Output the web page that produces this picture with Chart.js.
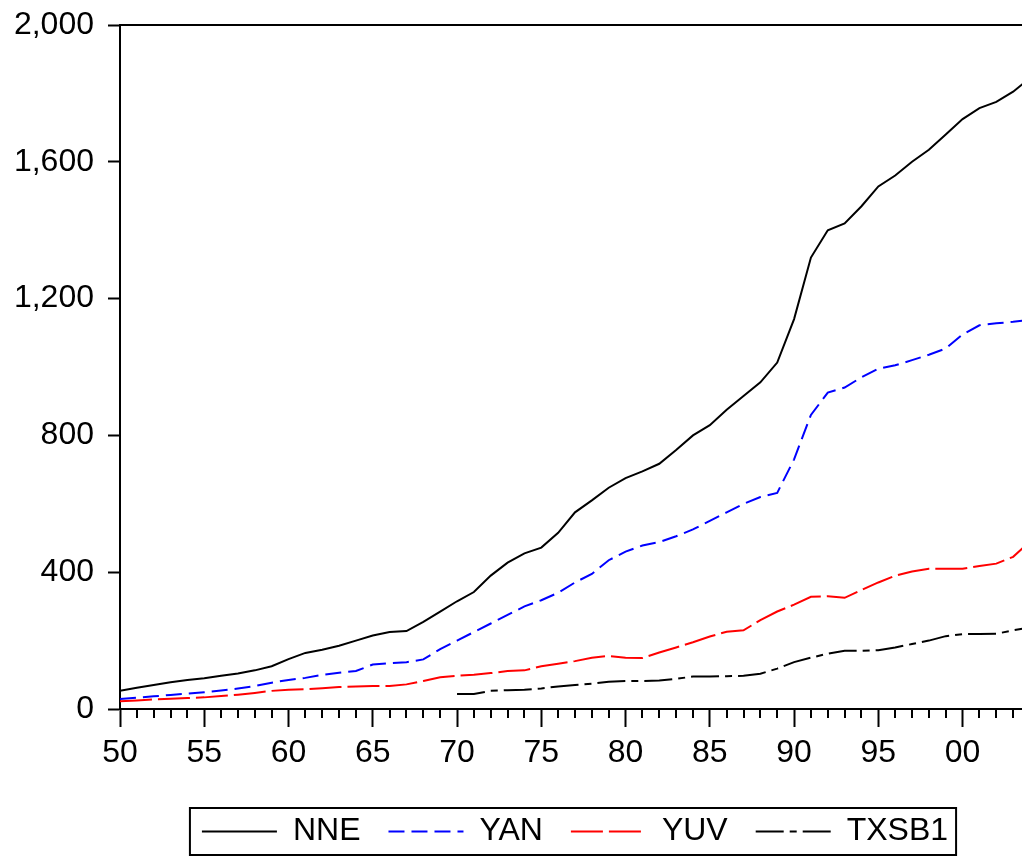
<!DOCTYPE html>
<html>
<head>
<meta charset="utf-8">
<script src="https://cdn.jsdelivr.net/npm/chart.js@4.4.1/dist/chart.umd.min.js"></script>
<style>
  html, body { margin: 0; padding: 0; background: #fff; overflow: hidden; }
  #wrap { width: 1040px; height: 857px; }
</style>
</head>
<body>
<div id="wrap"><canvas id="chart"></canvas></div>
<script>
// ---- data (annual, 1950-2004; last year runs past the window edge) ----
const years = [
  1950, 1951, 1952, 1953, 1954, 1955, 1956, 1957, 1958, 1959,
  1960, 1961, 1962, 1963, 1964, 1965, 1966, 1967, 1968, 1969,
  1970, 1971, 1972, 1973, 1974, 1975, 1976, 1977, 1978, 1979,
  1980, 1981, 1982, 1983, 1984, 1985, 1986, 1987, 1988, 1989,
  1990, 1991, 1992, 1993, 1994, 1995, 1996, 1997, 1998, 1999,
  2000, 2001, 2002, 2003, 2004
];

const nne = [
  53, 62, 70, 78, 85, 90, 97, 104, 113, 125,
  146, 164, 173, 185, 200, 215, 225, 228, 255, 285,
  315, 342, 390, 428, 455, 472, 515, 575, 610, 647,
  675, 695, 717, 757, 800, 830, 875, 915, 955, 1013,
  1140, 1320, 1400, 1420, 1470, 1528, 1560, 1600, 1635, 1680,
  1725, 1757, 1775, 1805, 1845
];

const yan = [
  29, 33, 37, 41, 45, 49, 54, 60, 67, 77,
  85, 91, 100, 106, 111, 130, 134, 137, 145, 175,
  200, 225, 250, 275, 300, 318, 340, 370, 395, 435,
  460, 478, 488, 505, 525, 550, 575, 600, 620, 632,
  730, 860, 925, 940, 970, 995, 1005, 1020, 1036, 1054,
  1095, 1122, 1128, 1132, 1138
];

const yuv = [
  23, 25, 28, 30, 32, 34, 38, 42, 47, 53,
  56, 58, 61, 64, 66, 67, 67, 72, 82, 93,
  97, 100, 105, 111, 113, 125, 132, 140, 150, 155,
  150, 149, 165, 180, 195, 212, 226, 230, 260, 285,
  305, 328, 330, 325, 348, 370, 390, 402, 410, 410,
  410, 418, 425, 445, 490
];

const txsb1 = [
  null, null, null, null, null, null, null, null, null, null,
  null, null, null, null, null, null, null, null, null, null,
  44, 44, 53, 55, 56, 60, 66, 70, 74, 80,
  82, 82, 83, 88, 95, 95, 96, 97, 103, 118,
  137, 150, 162, 170, 170, 172, 180, 190, 200, 213,
  219, 219, 220, 230, 238
];

const xTicks = [1950, 1955, 1960, 1965, 1970, 1975, 1980, 1985, 1990, 1995, 2000];
const xTickLabels = ['50', '55', '60', '65', '70', '75', '80', '85', '90', '95', '00'];
const yTicks = [0, 400, 800, 1200, 1600, 2000];
const yTickLabels = ['0', '400', '800', '1,200', '1,600', '2,000'];

const FONT = { family: "'Liberation Sans', Arial, sans-serif", size: 32 };

function toPoints(values) {
  return years.map((yr, i) => ({ x: yr, y: values[i] }));
}

// minor year ticks, frame lines, legend samples and the box around the legend
const framePlugin = {
  id: 'frame',
  afterDraw(chart) {
    const { ctx, chartArea, scales } = chart;
    const x = scales.x;
    ctx.save();
    ctx.strokeStyle = '#000';
    ctx.lineWidth = 2;
    ctx.setLineDash([]);

    years.forEach(yr => {
      if (xTicks.includes(yr)) return;
      const px = Math.round(x.getPixelForValue(yr));
      ctx.beginPath();
      ctx.moveTo(px, chartArea.bottom);
      ctx.lineTo(px, chartArea.bottom + 9);
      ctx.stroke();
    });

    ctx.beginPath();
    ctx.moveTo(chartArea.left - 1, chartArea.top);
    ctx.lineTo(chartArea.right, chartArea.top);
    ctx.lineTo(chartArea.right, chartArea.bottom);
    ctx.stroke();

    const hb = chart.legend.legendHitBoxes;
    if (hb && hb.length) {
      const first = hb[0];
      const last = hb[hb.length - 1];
      const cy = first.top + first.height / 2;
      const left = first.left - 12;
      const right = last.left + last.width + 8;
      ctx.strokeRect(left, cy - 23, right - left, 47);

      chart.data.datasets.forEach((ds, i) => {
        const box = hb[i];
        const y = Math.round(box.top + box.height / 2) + 0.5;
        ctx.strokeStyle = ds.borderColor;
        ctx.setLineDash(ds.borderDash || []);
        ctx.beginPath();
        ctx.moveTo(box.left, y);
        ctx.lineTo(box.left + 75, y);
        ctx.stroke();
      });
    }
    ctx.restore();
  }
};

const ctx = document.getElementById('chart');

new Chart(ctx, {
  type: 'line',
  data: {
    datasets: [
      { label: 'NNE', data: toPoints(nne), borderColor: '#000000', borderWidth: 2, borderDash: [] },
      { label: 'YAN', data: toPoints(yan), borderColor: '#0000ff', borderWidth: 2, borderDash: [16, 7] },
      { label: 'YUV', data: toPoints(yuv), borderColor: '#ff0000', borderWidth: 2, borderDash: [32, 6] },
      { label: 'TXSB1', data: toPoints(txsb1), borderColor: '#000000', borderWidth: 2, borderDash: [28, 6, 7, 6] }
    ]
  },
  options: {
    responsive: true,
    maintainAspectRatio: false,
    animation: false,
    elements: {
      point: { radius: 0 },
      line: { tension: 0, fill: false }
    },
    layout: { padding: { top: 25, right: 10, bottom: 0, left: 0 } },
    plugins: {
      legend: {
        position: 'bottom',
        fullSize: false,
        labels: {
          usePointStyle: true,
          pointStyle: 'line',
          pointStyleWidth: 75,
          color: '#000',
          font: FONT,
          padding: 28,
          generateLabels(chart) {
            const items = Chart.defaults.plugins.legend.labels.generateLabels(chart);
            items.forEach(it => { it.strokeStyle = 'rgba(0,0,0,0)'; it.fillStyle = 'rgba(0,0,0,0)'; });
            return items;
          }
        }
      },
      tooltip: { enabled: false }
    },
    scales: {
      x: {
        type: 'linear',
        min: 1950,
        max: 2004,
        afterFit(scale) {
          scale.height = 78;
          scale.paddingLeft = 0;
          scale.paddingRight = 0;
        },
        afterBuildTicks(scale) { scale.ticks = xTicks.map(v => ({ value: v })); },
        ticks: {
          autoSkip: false,
          maxRotation: 0,
          padding: 7,
          color: '#000',
          font: FONT,
          callback: v => xTickLabels[xTicks.indexOf(v)]
        },
        grid: { drawOnChartArea: false, tickLength: 18, tickWidth: 2, tickColor: '#000' },
        border: { display: true, color: '#000', width: 2 }
      },
      y: {
        min: 0,
        max: 2000,
        afterFit(scale) {
          scale.width = 120;
          scale.paddingTop = 0;
          scale.paddingBottom = 0;
        },
        afterBuildTicks(scale) { scale.ticks = yTicks.map(v => ({ value: v })); },
        ticks: {
          padding: 14,
          color: '#000',
          font: FONT,
          callback: v => yTickLabels[yTicks.indexOf(v)]
        },
        grid: { drawOnChartArea: false, tickLength: 12, tickWidth: 2, tickColor: '#000' },
        border: { display: true, color: '#000', width: 2 }
      }
    }
  },
  plugins: [framePlugin]
});
</script>
</body>
</html>
